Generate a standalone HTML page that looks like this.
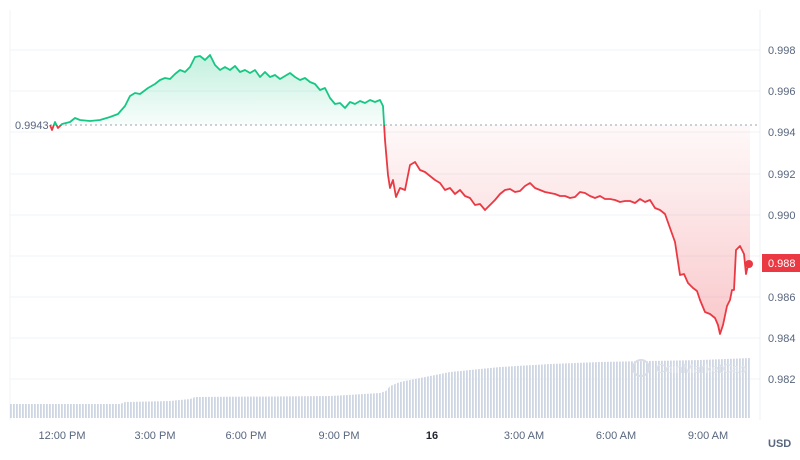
<!DOCTYPE html>
<html><head><meta charset="utf-8"><style>
html,body{margin:0;padding:0;background:#fff;}
svg{display:block;font-family:"Liberation Sans",sans-serif;}
</style></head><body>
<svg width="800" height="460" viewBox="0 0 800 460" xmlns="http://www.w3.org/2000/svg">
<defs>
<linearGradient id="gg" x1="0" y1="50" x2="0" y2="125" gradientUnits="userSpaceOnUse">
<stop offset="0" stop-color="#16c784" stop-opacity="0.28"/><stop offset="1" stop-color="#16c784" stop-opacity="0.03"/></linearGradient>
<linearGradient id="rg" x1="0" y1="125" x2="0" y2="335" gradientUnits="userSpaceOnUse">
<stop offset="0" stop-color="#ea3943" stop-opacity="0.03"/><stop offset="1" stop-color="#ea3943" stop-opacity="0.28"/></linearGradient>
<clipPath id="top"><rect x="0" y="0" width="800" height="125"/></clipPath>
<clipPath id="bot"><rect x="0" y="125" width="800" height="335"/></clipPath>
<pattern id="bars" x="10" y="0" width="3" height="10" patternUnits="userSpaceOnUse"><rect x="0" y="0" width="1.8" height="10" fill="#cfd6e3"/></pattern>
<path id="lp" d="M50,125 L52,130 L55,122 L58,128 L62,124 L70,122 L75,118 L80,120 L90,121 L100,120 L110,117 L118,114 L125,106 L130,96 L135,93 L140,94 L148,88 L155,84 L160,80 L165,78 L170,79 L175,74 L180,70 L185,72 L190,67 L195,57 L200,56 L205,60 L210,55 L215,65 L220,70 L225,67 L230,70 L235,66 L240,72 L245,70 L250,73 L255,70 L260,77 L265,72 L270,77 L275,75 L280,79 L285,76 L290,73 L295,77 L300,80 L305,78 L310,82 L315,84 L320,90 L325,88 L330,98 L335,104 L340,103 L345,108 L350,102 L355,104 L360,101 L365,103 L370,100 L375,102 L380,100 L383,106 L385,140 L388,175 L390,188 L393,180 L396,197 L400,188 L405,190 L410,165 L415,162 L420,170 L425,172 L430,176 L435,180 L440,183 L445,190 L450,188 L455,194 L460,190 L465,196 L470,198 L475,205 L480,204 L485,210 L490,205 L495,200 L500,194 L505,190 L510,189 L515,192 L520,191 L525,186 L530,183 L535,188 L540,190 L545,192 L550,193 L555,194 L560,196 L565,196 L570,198 L575,197 L580,192 L585,193 L590,196 L595,198 L600,196 L605,199 L610,199 L615,200 L620,202 L625,201 L630,201 L635,203 L640,199 L645,202 L650,200 L655,208 L660,210 L665,214 L670,228 L675,242 L680,275 L684,274 L688,283 L693,288 L697,291 L700,300 L705,312 L710,314 L715,318 L718,325 L720,334 L723,325 L727,306 L730,300 L732,290 L734,290 L736,250 L740,246 L744,254 L746,274 L748,265 L750,262"/>
<path id="fp" d="M50,125 L52,130 L55,122 L58,128 L62,124 L70,122 L75,118 L80,120 L90,121 L100,120 L110,117 L118,114 L125,106 L130,96 L135,93 L140,94 L148,88 L155,84 L160,80 L165,78 L170,79 L175,74 L180,70 L185,72 L190,67 L195,57 L200,56 L205,60 L210,55 L215,65 L220,70 L225,67 L230,70 L235,66 L240,72 L245,70 L250,73 L255,70 L260,77 L265,72 L270,77 L275,75 L280,79 L285,76 L290,73 L295,77 L300,80 L305,78 L310,82 L315,84 L320,90 L325,88 L330,98 L335,104 L340,103 L345,108 L350,102 L355,104 L360,101 L365,103 L370,100 L375,102 L380,100 L383,106 L385,140 L388,175 L390,188 L393,180 L396,197 L400,188 L405,190 L410,165 L415,162 L420,170 L425,172 L430,176 L435,180 L440,183 L445,190 L450,188 L455,194 L460,190 L465,196 L470,198 L475,205 L480,204 L485,210 L490,205 L495,200 L500,194 L505,190 L510,189 L515,192 L520,191 L525,186 L530,183 L535,188 L540,190 L545,192 L550,193 L555,194 L560,196 L565,196 L570,198 L575,197 L580,192 L585,193 L590,196 L595,198 L600,196 L605,199 L610,199 L615,200 L620,202 L625,201 L630,201 L635,203 L640,199 L645,202 L650,200 L655,208 L660,210 L665,214 L670,228 L675,242 L680,275 L684,274 L688,283 L693,288 L697,291 L700,300 L705,312 L710,314 L715,318 L718,325 L720,334 L723,325 L727,306 L730,300 L732,290 L734,290 L736,250 L740,246 L744,254 L746,274 L748,265 L750,262 L750,125 Z"/>
</defs>
<g stroke="#f1f3f6" stroke-width="1">
<line x1="10" y1="50" x2="760" y2="50"/><line x1="10" y1="91" x2="760" y2="91"/><line x1="10" y1="132" x2="760" y2="132"/><line x1="10" y1="174" x2="760" y2="174"/><line x1="10" y1="215" x2="760" y2="215"/><line x1="10" y1="256" x2="760" y2="256"/><line x1="10" y1="297" x2="760" y2="297"/><line x1="10" y1="338" x2="760" y2="338"/><line x1="10" y1="379" x2="760" y2="379"/>
</g>
<line x1="10" y1="10" x2="10" y2="420" stroke="#f1f3f6"/>
<line x1="760" y1="10" x2="760" y2="420" stroke="#eef0f3"/>
<polygon fill="url(#bars)" points="10,418 10,404 120,404 125,402 170,401 190,399 195,397 330,396 380,393 386,391 390,386 400,382 420,378 450,372 500,367 550,364 600,362 650,361 700,360 750,358 750,418"/>
<use href="#fp" fill="url(#gg)" stroke="none" clip-path="url(#top)"/>
<use href="#fp" fill="url(#rg)" stroke="none" clip-path="url(#bot)"/>
<line x1="50" y1="125" x2="760" y2="125" stroke="#9aa3b0" stroke-dasharray="2,3" stroke-width="1"/>
<use href="#lp" fill="none" stroke="#16c784" stroke-width="1.8" stroke-linejoin="round" clip-path="url(#top)"/>
<use href="#lp" fill="none" stroke="#ea3943" stroke-width="1.8" stroke-linejoin="round" clip-path="url(#bot)"/>
<circle cx="749" cy="264" r="4" fill="#ea3943"/>
<text x="15" y="129" font-size="11" fill="#58667e">0.9943</text>
<g font-size="11" fill="#58667e">
<text x="768" y="54">0.998</text><text x="768" y="95">0.996</text><text x="768" y="136">0.994</text><text x="768" y="178">0.992</text><text x="768" y="219">0.990</text><text x="768" y="301">0.986</text><text x="768" y="342">0.984</text><text x="768" y="383">0.982</text>
</g>
<rect x="762" y="254" width="38" height="18" fill="#ea3943"/>
<text x="768" y="267" font-size="11" fill="#fff">0.988</text>
<g font-size="11" fill="#58667e" text-anchor="middle">
<text x="62" y="439">12:00 PM</text><text x="155" y="439">3:00 PM</text><text x="246" y="439">6:00 PM</text><text x="339" y="439">9:00 PM</text><text x="432" y="439" font-weight="bold" fill="#222531">16</text><text x="524" y="439">3:00 AM</text><text x="616" y="439">6:00 AM</text><text x="708" y="439">9:00 AM</text>
</g>
<text x="768" y="447" font-size="11" font-weight="bold" fill="#58667e">USD</text>
<circle cx="641" cy="368" r="8" fill="none" stroke="#d8dde6" stroke-width="2"/>
<text x="656" y="373" font-size="13" fill="#dfe3ea">CoinMarketCap</text>
</svg>
</body></html>
